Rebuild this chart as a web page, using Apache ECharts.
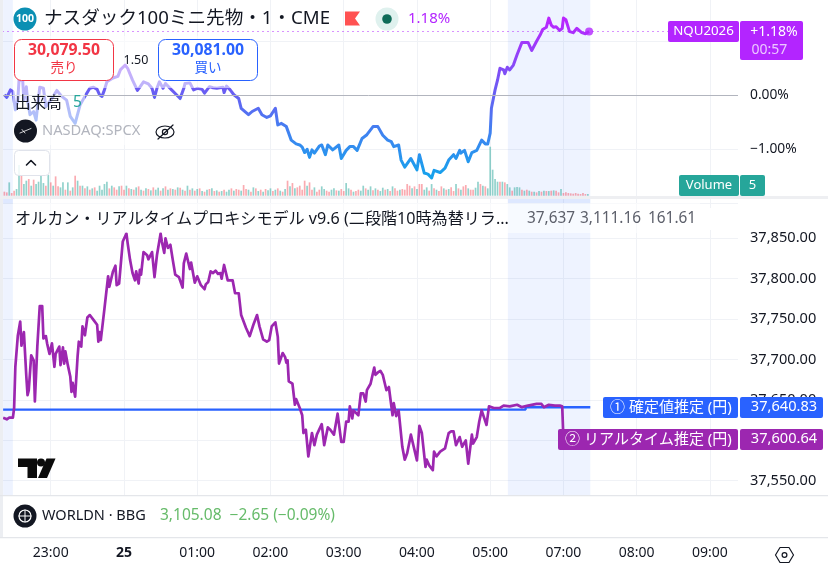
<!DOCTYPE html>
<html>
<head>
<meta charset="utf-8">
<style>html,body{margin:0;padding:0;background:#fff}#chart{width:828px;height:568px}</style>
<script src="https://cdn.jsdelivr.net/npm/echarts@6/dist/echarts.min.js"></script>
</head>
<body>
<div id="chart"></div>
<script>
// Session minutes from midnight; the 05:00-07:00 gap is closed up on the axis.
const xTickLabels = ['', '23:00', '{day|25}', '01:00', '02:00', '03:00', '04:00', '05:00', '07:00', '08:00', '09:00'];

const futuresMinutes = [-98,-96,-93,-91,-89,-87,-86,-83,-82,-80,-79,-77,-74,-72,-69,-66,-64,-62,-58,-55,-51,-47,-44,-40,-36,-32,-28,-25,-22,-20,-18,-16,-14,-9,-5,-3,1,3,7,11,13,16,20,23,25,27,29,32,34,39,43,46,49,50,54,57,60,64,66,70,73,76,81,82,84,87,90,94,96,102,105,106,110,113,117,120,124,126,129,133,137,141,144,146,148,150,152,154,156,160,162,165,167,171,176,178,182,185,188,191,195,199,204,208,212,216,219,221,225,227,230,235,240,242,246,249,252,254,259,263,266,270,272,275,276,279,282,285,289,293,296,298,300,301,302,304,306,307,308,311,312,314,316,319,322,326,331,334,338,341,343,346,348,350,352,354,357,359,360,362,365,368,371,375,378,381];
const futuresPct = [0.01,-0.04,0.10,0.07,-0.27,-0.09,0.28,0.28,-0.09,0.16,-0.09,-0.36,-0.30,-0.46,0.15,0.13,-0.21,-0.15,-0.02,0.09,-0.02,-0.09,-0.39,-0.52,-0.18,-0.02,0.13,0.15,0.11,0.01,-0.02,0.10,0.25,0.32,0.35,0.47,0.56,0.50,0.28,0.09,0.15,0.25,0.21,0.13,-0.04,0.13,0.25,0.13,0.22,0.10,0.01,-0.06,0.13,0.22,0.23,0.10,0.13,0.11,0.04,0.16,0.14,0.13,0.15,0.05,0.17,0.10,0.01,-0.06,-0.24,-0.36,-0.30,-0.33,-0.24,-0.36,-0.41,-0.38,-0.24,-0.55,-0.52,-0.58,-0.83,-0.90,-0.92,-0.96,-1.06,-1.00,-1.15,-1.01,-1.07,-0.94,-0.92,-1.10,-0.92,-1.01,-0.92,-1.17,-1.02,-0.95,-0.95,-1.02,-0.80,-0.73,-0.58,-0.58,-0.74,-0.83,-0.86,-0.95,-0.92,-1.20,-1.33,-1.17,-1.38,-1.10,-1.44,-1.46,-1.53,-1.39,-1.43,-1.35,-1.20,-1.10,-1.17,-1.02,-1.07,-1.02,-1.23,-1.06,-1.02,-0.83,-0.90,-0.90,-0.70,-0.24,-0.21,0.10,0.28,0.31,0.50,0.47,0.40,0.52,0.47,0.56,0.75,0.98,0.98,0.83,1.00,1.12,1.22,1.26,1.43,1.30,1.26,1.27,1.20,1.24,1.43,1.40,1.18,1.16,1.24,1.16,1.14,1.18];

// Two-minute bars from -98 onward; a negative entry marks a falling bar.
const signedVolumes = [
  -12,-10,40,-8,-15,20,92,-60,35,45,-50,30,-48,35,42,60,38,-30,62,-40,30,-58,-28,25,
  40,-18,40,-15,25,-60,45,-30,30,-22,28,-18,22,-25,15,30,18,35,42,-22,30,-25,-18,28,
  -30,-18,30,-22,20,-18,25,-28,18,-15,22,-20,16,-25,18,24,-15,22,-28,18,-22,20,-18,25,
  -24,18,-15,30,-18,22,-15,20,-22,14,-12,18,-20,22,-14,16,-12,14,-18,12,18,-22,15,-20,
  -18,15,-32,-20,18,-12,25,-22,14,-18,12,-20,16,22,-14,18,-22,15,-12,20,-45,28,-38,22,
  -25,-30,-18,-45,30,-40,-18,25,-12,-18,28,20,-15,-12,18,22,-16,15,-20,-14,38,22,-18,12,
  -14,-18,15,30,-22,18,28,-16,22,-18,14,24,-18,20,-14,28,-22,-15,18,-20,-18,-35,-30,22,
  -28,20,-35,-35,18,25,-15,35,-22,18,-14,-28,22,-18,20,-25,-14,35,-22,18,-28,-32,22,-18,
  -18,24,42,-35,30,-28,22,147,78,50,42,-42,42,-40,35,25,-15,25,26,25,-18,15,-18,15,
  -12,12,-10,14,-12,15,-14,14,-15,16,-15,-10,20,-8,-10,-8,-7,-6,-8,-6,-5,-8,-5,5
];

const proxyMinutes = [-99,-96,-94,-91,-90,-89,-87,-86,-85,-84,-82,-81,-80,-79,-78,-76,-74,-73,-71,-69,-67,-66,-64,-63,-62,-61,-59,-57,-56,-55,-53,-52,-50,-49,-48,-46,-44,-43,-42,-40,-38,-37,-35,-34,-32,-30,-28,-25,-22,-21,-20,-19,-18,-16,-15,-13,-12,-9,-7,-6,-4,-1,2,3,5,7,9,10,12,13,14,16,19,20,23,25,27,28,30,31,33,34,36,38,40,42,45,48,49,51,52,54,55,58,60,61,63,66,67,69,71,73,75,77,79,80,82,83,85,89,91,94,96,97,100,103,106,109,111,114,117,119,121,124,126,127,128,130,132,133,134,135,138,140,141,144,146,147,149,151,154,156,158,162,164,167,169,172,175,178,180,182,184,185,187,188,192,194,196,198,199,202,205,206,208,210,212,215,217,220,221,223,225,228,230,232,235,236,240,242,244,247,248,250,253,254,256,259,263,266,268,270,272,275,277,280,282,285,286,289,291,293,294,297,298,299,303,308,311,316,322,326,331,338,342,344,348,353,357,359,360];
const proxyYen = [37628,37626,37628,37628,37640,37691,37729,37730,37747,37717,37734,37734,37679,37656,37662,37705,37699,37648,37716,37766,37766,37726,37729,37720,37722,37707,37720,37691,37707,37706,37716,37693,37715,37695,37710,37693,37679,37660,37671,37654,37704,37722,37716,37741,37730,37752,37755,37749,37743,37722,37734,37724,37725,37763,37765,37803,37790,37809,37816,37792,37794,37846,37856,37844,37823,37807,37798,37809,37794,37811,37805,37833,37829,37824,37833,37802,37829,37827,37856,37846,37832,37850,37838,37842,37823,37805,37802,37789,37819,37831,37833,37812,37820,37795,37803,37802,37792,37787,37793,37796,37809,37807,37810,37806,37807,37800,37817,37817,37798,37798,37782,37782,37755,37753,37739,37729,37743,37755,37741,37725,37722,37724,37741,37746,37728,37695,37693,37708,37703,37696,37699,37673,37670,37644,37651,37640,37631,37609,37613,37580,37609,37594,37607,37620,37594,37616,37613,37607,37633,37598,37598,37623,37623,37642,37627,37637,37631,37658,37658,37648,37662,37670,37690,37681,37684,37686,37681,37662,37666,37631,37646,37630,37637,37592,37576,37584,37607,37607,37575,37618,37609,37567,37576,37569,37563,37586,37580,37586,37590,37609,37611,37611,37594,37604,37592,37600,37571,37607,37596,37604,37623,37637,37635,37619,37619,37642,37640,37640,37643,37642,37644,37641,37643,37645,37645,37641,37644,37643,37643,37642,37600.64];

const settledMinutes = [-99, 329, 329, 382];
const settledYen = [37638, 37638, 37640.83, 37640.83];

// Shaded extended-hours windows, in session minutes.
const shadedSessions = [[-99, -91], [314.5, 382]];

const FONT = '"Noto Sans","Noto Sans CJK JP",sans-serif';
const INK = '#131722';
const GRID_LINE = '#f0f2f6';
const PURPLE = '#b325ff';
const PROXY = '#9c27b0';
const BLUE = '#2962ff';
const TEAL = '#26a69a';

const zip = (xs, ys) => xs.map((x, i) => [x, ys[i]]);
const last = arr => arr[arr.length - 1];

// Helpers for the interface furniture around the panes.
const txt = (text, x, y, size, fill, opts = {}) => ({
  type: 'text', z: 120,
  style: {
    text, x, y, fill,
    font: `${opts.weight || 'normal'} ${size}px ${FONT}`,
    textAlign: opts.align || 'left',
    textVerticalAlign: 'middle'
  }
});
const box = (x, y, width, height, fill, opts = {}) => ({
  type: 'rect', z: opts.z || 110,
  shape: { x, y, width, height, r: opts.r || 0 },
  style: { fill, stroke: opts.stroke, lineWidth: opts.stroke ? 1 : 0 }
});
const disc = (cx, cy, r, fill, opts = {}) => ({
  type: 'circle', z: opts.z || 115,
  shape: { cx, cy, r },
  style: { fill: fill, stroke: opts.stroke, lineWidth: opts.lineWidth || 0 }
});
const stroke = (points, color, width) => ({
  type: 'polyline', z: 118,
  shape: { points },
  style: { fill: 'none', stroke: color, lineWidth: width, lineCap: 'round', lineJoin: 'round' }
});
const poly = (points, fill) => ({ type: 'polygon', z: 118, shape: { points }, style: { fill } });

const overlays = [
  // Legend washes over the price line
  box(13, 36, 218, 52, 'rgba(255,255,255,0.55)', { z: 105 }),
  box(13, 88, 72, 24, 'rgba(255,255,255,0.55)', { z: 105 }),
  box(13, 112, 168, 33, 'rgba(255,255,255,0.55)', { z: 105 }),
  box(13, 203, 687, 30, 'rgba(255,255,255,0.55)', { z: 105 }),

  // Pane separators and chrome
  box(0, 0, 3, 537, '#eceef2', { z: 112 }),
  box(0, 196, 828, 3, '#eeeff2', { z: 112 }),
  box(3, 495, 825, 42, '#ffffff', { z: 108 }),
  box(0, 495, 828, 1.2, '#e4e6ea', { z: 112 }),
  box(0, 537, 828, 1.2, '#e4e6ea', { z: 112 }),

  // Header row
  disc(25, 19, 11.5, '#0b8fb3'),
  txt('100', 25, 19.5, 10.5, '#ffffff', { weight: 'bold', align: 'center' }),
  txt('ナスダック100ミニ先物・1・CME', 44, 19, 18.6, INK),
  poly([[345, 11.5], [360, 11.5], [355, 18.5], [360, 25.5], [345, 25.5]], '#ff5252'),
  disc(387, 19, 11.5, '#dff1ee'),
  disc(387, 19, 4.8, '#0e6b58'),
  txt('1.18%', 408, 19, 15, PURPLE),

  // Bid and ask boxes
  box(14.5, 39.5, 99, 41, '#ffffff', { stroke: '#f23645', r: 7, z: 115 }),
  txt('30,079.50', 64, 50.5, 15.8, '#f23645', { weight: 'bold', align: 'center' }),
  txt('売り', 64, 68, 13.5, '#f23645', { align: 'center' }),
  box(158.5, 39.5, 99, 41, '#ffffff', { stroke: BLUE, r: 7, z: 115 }),
  txt('30,081.00', 208, 50.5, 15.8, BLUE, { weight: 'bold', align: 'center' }),
  txt('買い', 208, 68, 13.5, BLUE, { align: 'center' }),
  txt('1.50', 136, 60, 12.5, INK, { align: 'center' }),

  // Indicator legend
  txt('出来高', 15, 104, 15.6, INK),
  txt('5', 73, 103, 15.6, TEAL),
  disc(25.5, 131, 11.5, '#131722'),
  stroke([[20, 133], [31, 128.5]], '#ffffff', 0.8),
  stroke([[22, 129.5], [25, 133]], '#ffffff', 0.8),
  txt('NASDAQ:SPCX', 42, 131, 14.7, '#b2b5be'),
  { type: 'ellipse', z: 118, shape: { cx: 165, cy: 132, rx: 9, ry: 6 }, style: { fill: 'none', stroke: INK, lineWidth: 1.2 } },
  disc(165, 132, 2.6, 'none', { stroke: INK, lineWidth: 1.2, z: 118 }),
  stroke([[158, 139], [173, 125]], INK, 1.2),
  box(14.5, 150.5, 35, 25, 'rgba(255,255,255,0.85)', { stroke: '#e0e3eb', r: 4, z: 115 }),
  stroke([[26.5, 165], [31, 160.5], [35.5, 165]], INK, 1.6),

  // Price-scale tags for the futures pane
  box(668, 21, 71, 21, PURPLE, { r: 2, z: 115 }),
  txt('NQU2026', 703.5, 31.5, 13.3, '#ffffff', { align: 'center' }),
  box(740, 21, 63, 39, PURPLE, { r: 2, z: 115 }),
  txt('+1.18%', 774, 32, 14, '#ffffff', { align: 'center' }),
  txt('00:57', 751.5, 50, 14, 'rgba(255,255,255,0.75)'),
  box(679, 175, 60, 21, TEAL, { r: 2, z: 115 }),
  txt('Volume', 709, 185.5, 13, '#ffffff', { align: 'center' }),
  box(740, 175, 25, 21, TEAL, { r: 2, z: 115 }),
  txt('5', 752.5, 185.5, 13, '#ffffff', { align: 'center' }),

  // Proxy model legend, with its value strip cut off at the pane's edge
  txt('オルカン・リアルタイムプロキシモデル v9.6 (二段階10時為替リラ...', 15, 219, 16.1, INK),
  txt('37,637', 527, 219, 15.4, '#5d606b'),
  txt('3,111.16', 580, 219, 15.4, '#5d606b'),
  txt('161.61', 648, 219, 15.4, '#5d606b'),
  box(698.5, 208, 14, 22, '#ffffff', { z: 125 }),

  // Watermark
  poly([[18, 458.5], [37, 458.5], [37, 478], [27.5, 478], [27.5, 467], [18, 467]], '#0b0b0b'),
  disc(41, 462.5, 4, '#0b0b0b', { z: 118 }),
  poly([[46.5, 458.5], [55.5, 458.5], [47, 478], [38, 478]], '#0b0b0b'),

  // Price-scale tags for the proxy pane
  box(603, 397, 135, 21, BLUE, { r: 2, z: 115 }),
  txt('① 確定値推定 (円)', 610, 407.5, 15, '#ffffff'),
  box(740, 397, 83, 21, BLUE, { r: 2, z: 115 }),
  txt('37,640.83', 784, 407, 14.6, '#ffffff', { align: 'center' }),
  box(558, 429, 180, 21, PROXY, { r: 2, z: 115 }),
  txt('② リアルタイム推定 (円)', 565, 439.5, 15, '#ffffff'),
  box(740, 429, 83, 21, PROXY, { r: 2, z: 115 }),
  txt('37,600.64', 784, 439, 14.6, '#ffffff', { align: 'center' }),

  // Index legend
  disc(25, 516, 11.5, '#131722'),
  disc(25, 516, 6, 'none', { stroke: '#ffffff', lineWidth: 1.2, z: 118 }),
  stroke([[19, 516], [31, 516]], '#ffffff', 1),
  stroke([[25, 510], [25, 522]], '#ffffff', 1),
  txt('WORLDN · BBG', 42, 516, 14.5, INK),
  txt('3,105.08  −2.65 (−0.09%)', 160, 516, 15.5, '#66bb6a'),

  // Axis settings hexagon
  stroke([[775.5, 555], [780, 547.5], [789, 547.5], [793.5, 555], [789, 562.5], [780, 562.5], [775.5, 555]], INK, 1.2),
  disc(784.5, 555, 2.4, 'none', { stroke: INK, lineWidth: 1.2, z: 118 })
];

// Both panes and the volume strip share the same session scale.
const sharedX = gridIndex => ({
  type: 'value', gridIndex, min: -120, max: 503, interval: 60,
  axisLine: { show: false }, axisTick: { show: false }, axisLabel: { show: false },
  splitLine: { show: false }
});
const pricePaneX = gridIndex => Object.assign(sharedX(gridIndex), {
  splitLine: { show: true, showMinLine: false, showMaxLine: false, lineStyle: { color: GRID_LINE, width: 1 } }
});
const shading = {
  silent: true,
  itemStyle: { color: 'rgba(41,98,255,0.08)' },
  data: shadedSessions.map(([a, b]) => [{ xAxis: a }, { xAxis: b }])
};

const priceLineGradient = new echarts.graphic.LinearGradient(0, 18, 0, 178, [
  { offset: 0, color: '#bb25ff' },
  { offset: 0.45, color: '#6b5cf3' },
  { offset: 0.75, color: '#3a87f0' },
  { offset: 1, color: '#14a3ec' }
], true);

const chart = echarts.init(document.getElementById('chart'), null, { renderer: 'canvas' });
chart.setOption({
  animation: false,
  backgroundColor: '#ffffff',
  textStyle: { fontFamily: FONT },
  grid: [
    { left: -22.5, width: 760.5, top: -12.7, height: 216, outerBoundsMode: 'none' },
    { left: -22.5, width: 760.5, top: 135.7, height: 60, outerBoundsMode: 'none' },
    { left: -22.5, width: 760.5, top: 197.9, height: 323.2, outerBoundsMode: 'none' }
  ],
  xAxis: [
    pricePaneX(0),
    sharedX(1),
    Object.assign(pricePaneX(2), {
      axisLabel: {
        show: true, margin: 25, fontSize: 14, color: INK, fontFamily: FONT,
        showMinLabel: false, showMaxLabel: false,
        formatter: v => xTickLabels[(v + 120) / 60] || '',
        rich: { day: { fontWeight: 'bold', fontSize: 14, color: INK, fontFamily: FONT } }
      }
    })
  ],
  yAxis: [
    {
      type: 'value', gridIndex: 0, position: 'right', min: -2, max: 2, interval: 1,
      axisLine: { show: false }, axisTick: { show: false },
      splitLine: { lineStyle: { color: GRID_LINE, width: 1 } },
      axisLabel: {
        margin: 12, fontSize: 13.8, color: INK, fontFamily: FONT,
        formatter: v => (v === 0 || v === -1) ? (v < 0 ? '−' : '') + Math.abs(v).toFixed(2) + '%' : ''
      }
    },
    { type: 'value', gridIndex: 1, min: 0, max: 180, show: false },
    {
      type: 'value', gridIndex: 2, position: 'right', min: 37500, max: 37900, interval: 50,
      axisLine: { show: false }, axisTick: { show: false },
      splitLine: { lineStyle: { color: GRID_LINE, width: 1 } },
      axisLabel: {
        margin: 12, fontSize: 14.6, color: INK, fontFamily: FONT,
        formatter: v => (v === 37500 || v === 37900) ? '' :
          v.toLocaleString('en-US', { minimumFractionDigits: 2, maximumFractionDigits: 2 })
      }
    }
  ],
  series: [
    { type: 'line', xAxisIndex: 0, yAxisIndex: 0, data: [], z: 1, markArea: shading },
    { type: 'line', xAxisIndex: 2, yAxisIndex: 2, data: [], z: 1, markArea: shading },
    {
      type: 'bar', xAxisIndex: 1, yAxisIndex: 1, barWidth: 1.7, z: 3,
      data: signedVolumes.map((v, i) => ({
        value: [-98 + 2 * i, Math.abs(v)],
        itemStyle: { color: v < 0 ? 'rgba(242,54,69,0.42)' : 'rgba(38,166,154,0.5)' }
      }))
    },
    {
      type: 'line', xAxisIndex: 0, yAxisIndex: 0, z: 4, showSymbol: false,
      data: zip(futuresMinutes, futuresPct),
      lineStyle: { color: priceLineGradient, width: 3, join: 'round' },
      markLine: {
        silent: true, symbol: 'none', label: { show: false }, animation: false,
        data: [
          { yAxis: 0, lineStyle: { color: '#b2b5be', width: 1, type: 'solid' } },
          { yAxis: last(futuresPct), lineStyle: { color: PURPLE, width: 1, type: [1, 4] } }
        ]
      }
    },
    {
      type: 'scatter', xAxisIndex: 0, yAxisIndex: 0, z: 5, symbolSize: 8,
      itemStyle: { color: PURPLE },
      data: [[last(futuresMinutes), last(futuresPct)]]
    },
    {
      type: 'line', xAxisIndex: 2, yAxisIndex: 2, z: 4, showSymbol: false,
      data: zip(settledMinutes, settledYen),
      lineStyle: { color: BLUE, width: 2.4 }
    },
    {
      type: 'line', xAxisIndex: 2, yAxisIndex: 2, z: 5, showSymbol: false,
      data: zip(proxyMinutes, proxyYen),
      lineStyle: { color: PROXY, width: 2.7, join: 'round' }
    }
  ],
  graphic: { elements: overlays }
});
</script>
</body>
</html>
